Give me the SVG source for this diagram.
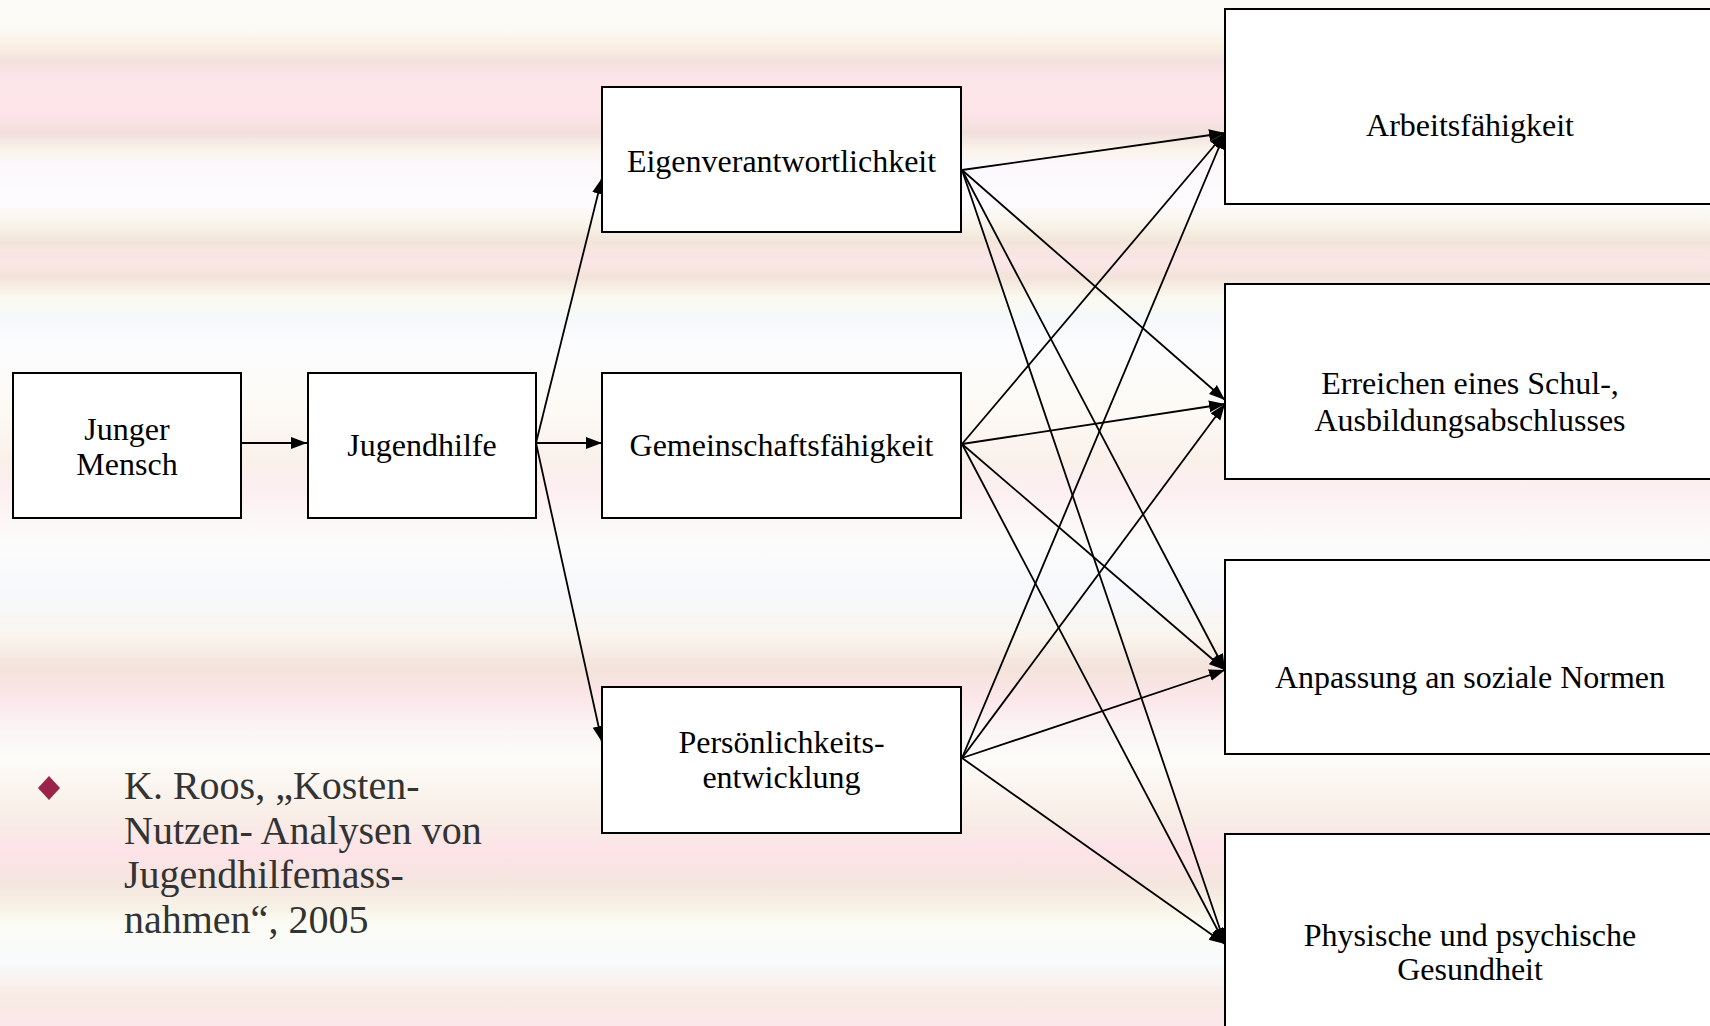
<svg xmlns="http://www.w3.org/2000/svg" width="1710" height="1026" viewBox="0 0 1710 1026">
<defs>
<linearGradient id="bg" x1="0" y1="0" x2="0" y2="1">
<stop offset="0" stop-color="#fdfbf8"/>
<stop offset="0.03" stop-color="#fcfaf5"/>
<stop offset="0.045" stop-color="#f8f0e2"/>
<stop offset="0.06" stop-color="#f3e1df"/>
<stop offset="0.08" stop-color="#fde6ea"/>
<stop offset="0.11" stop-color="#fde4e8"/>
<stop offset="0.13" stop-color="#f2dfdc"/>
<stop offset="0.145" stop-color="#faf3ea"/>
<stop offset="0.16" stop-color="#fcf8fb"/>
<stop offset="0.2" stop-color="#fdfcfd"/>
<stop offset="0.22" stop-color="#f8f3e8"/>
<stop offset="0.235" stop-color="#f3e5da"/>
<stop offset="0.255" stop-color="#fce6e8"/>
<stop offset="0.27" stop-color="#f3e3da"/>
<stop offset="0.29" stop-color="#fbf9ef"/>
<stop offset="0.31" stop-color="#f6f9fb"/>
<stop offset="0.34" stop-color="#fcfcfd"/>
<stop offset="0.4" stop-color="#fdfaf5"/>
<stop offset="0.45" stop-color="#faf0ea"/>
<stop offset="0.48" stop-color="#fdeff2"/>
<stop offset="0.5" stop-color="#fcf5f5"/>
<stop offset="0.53" stop-color="#fbfcfa"/>
<stop offset="0.58" stop-color="#f7f8fc"/>
<stop offset="0.62" stop-color="#faf5ee"/>
<stop offset="0.65" stop-color="#f3e3db"/>
<stop offset="0.68" stop-color="#fce6ea"/>
<stop offset="0.71" stop-color="#fbf4f4"/>
<stop offset="0.74" stop-color="#fcfcf9"/>
<stop offset="0.77" stop-color="#fbf4ee"/>
<stop offset="0.8" stop-color="#f8ece6"/>
<stop offset="0.83" stop-color="#fde3e8"/>
<stop offset="0.86" stop-color="#f5e5df"/>
<stop offset="0.885" stop-color="#f8f2e6"/>
<stop offset="0.9" stop-color="#fcfcf5"/>
<stop offset="0.94" stop-color="#f8fafc"/>
<stop offset="0.97" stop-color="#f8ebe4"/>
<stop offset="1" stop-color="#fbe8ea"/>
</linearGradient>
<marker id="arr" markerUnits="userSpaceOnUse" markerWidth="16" markerHeight="14" viewBox="0 0 16 14" refX="16" refY="7" orient="auto">
<path d="M0,1 L16,7 L0,13 Z" fill="#000"/>
</marker>
</defs>
<style>
.box{fill:#fff;stroke:#000;stroke-width:2}
.t{font-family:"Liberation Serif","Times New Roman",serif;font-size:32px;fill:#000;text-anchor:middle}
.edge{stroke:#000;stroke-width:1.8;fill:none;marker-end:url(#arr)}
.cite{font-family:"Liberation Serif","Times New Roman",serif;font-size:40px;fill:#333}
</style>
<rect x="0" y="0" width="1710" height="1026" fill="url(#bg)"/>

<g id="connectors">
<line class="edge" x1="241" y1="443" x2="307" y2="443"/>
<line class="edge" x1="536" y1="443" x2="602" y2="178"/>
<line class="edge" x1="536" y1="443" x2="602" y2="443"/>
<line class="edge" x1="536" y1="443" x2="602" y2="742"/>
<line class="edge" x1="962" y1="170" x2="1225" y2="133"/>
<line class="edge" x1="962" y1="170" x2="1225" y2="400"/>
<line class="edge" x1="962" y1="170" x2="1225" y2="670"/>
<line class="edge" x1="962" y1="170" x2="1225" y2="944"/>
<line class="edge" x1="962" y1="444" x2="1225" y2="133"/>
<line class="edge" x1="962" y1="444" x2="1225" y2="404"/>
<line class="edge" x1="962" y1="444" x2="1225" y2="670"/>
<line class="edge" x1="962" y1="444" x2="1225" y2="944"/>
<line class="edge" x1="962" y1="758" x2="1225" y2="133"/>
<line class="edge" x1="962" y1="758" x2="1225" y2="404"/>
<line class="edge" x1="962" y1="758" x2="1225" y2="670"/>
<line class="edge" x1="962" y1="758" x2="1225" y2="944"/>
</g>

<g id="junger-mensch">
<rect class="box" x="13" y="373" width="228" height="145"/>
<text class="t" x="127" y="440">Junger</text>
<text class="t" x="127" y="475">Mensch</text>
</g>
<g id="jugendhilfe">
<rect class="box" x="308" y="373" width="228" height="145"/>
<text class="t" x="422" y="456">Jugendhilfe</text>
</g>
<g id="eigenverantwortlichkeit">
<rect class="box" x="602" y="87" width="359" height="145"/>
<text class="t" x="781.5" y="172">Eigenverantwortlichkeit</text>
</g>
<g id="gemeinschaftsfaehigkeit">
<rect class="box" x="602" y="373" width="359" height="145"/>
<text class="t" x="781.5" y="456">Gemeinschaftsfähigkeit</text>
</g>
<g id="persoenlichkeitsentwicklung">
<rect class="box" x="602" y="687" width="359" height="146"/>
<text class="t" x="781.5" y="753">Persönlichkeits-</text>
<text class="t" x="781.5" y="788">entwicklung</text>
</g>
<g id="arbeitsfaehigkeit">
<rect class="box" x="1225" y="9" width="500" height="195"/>
<text class="t" x="1470" y="136">Arbeitsfähigkeit</text>
</g>
<g id="erreichen">
<rect class="box" x="1225" y="284" width="500" height="195"/>
<text class="t" x="1470" y="394">Erreichen eines Schul-,</text>
<text class="t" x="1470" y="431">Ausbildungsabschlusses</text>
</g>
<g id="anpassung">
<rect class="box" x="1225" y="560" width="500" height="194"/>
<text class="t" x="1470" y="688">Anpassung an soziale Normen</text>
</g>
<g id="gesundheit">
<rect class="box" x="1225" y="834" width="500" height="220"/>
<text class="t" x="1470" y="946">Physische und psychische</text>
<text class="t" x="1470" y="980">Gesundheit</text>
</g>

<g id="citation">
<path d="M49,776 L60,788 L49,800 L38,788 Z" fill="#9b2249"/>
<text class="cite" x="124" y="799">K. Roos, „Kosten-</text>
<text class="cite" x="124" y="844">Nutzen- Analysen von</text>
<text class="cite" x="124" y="888">Jugendhilfemass-</text>
<text class="cite" x="124" y="933">nahmen“, 2005</text>
</g>
</svg>
